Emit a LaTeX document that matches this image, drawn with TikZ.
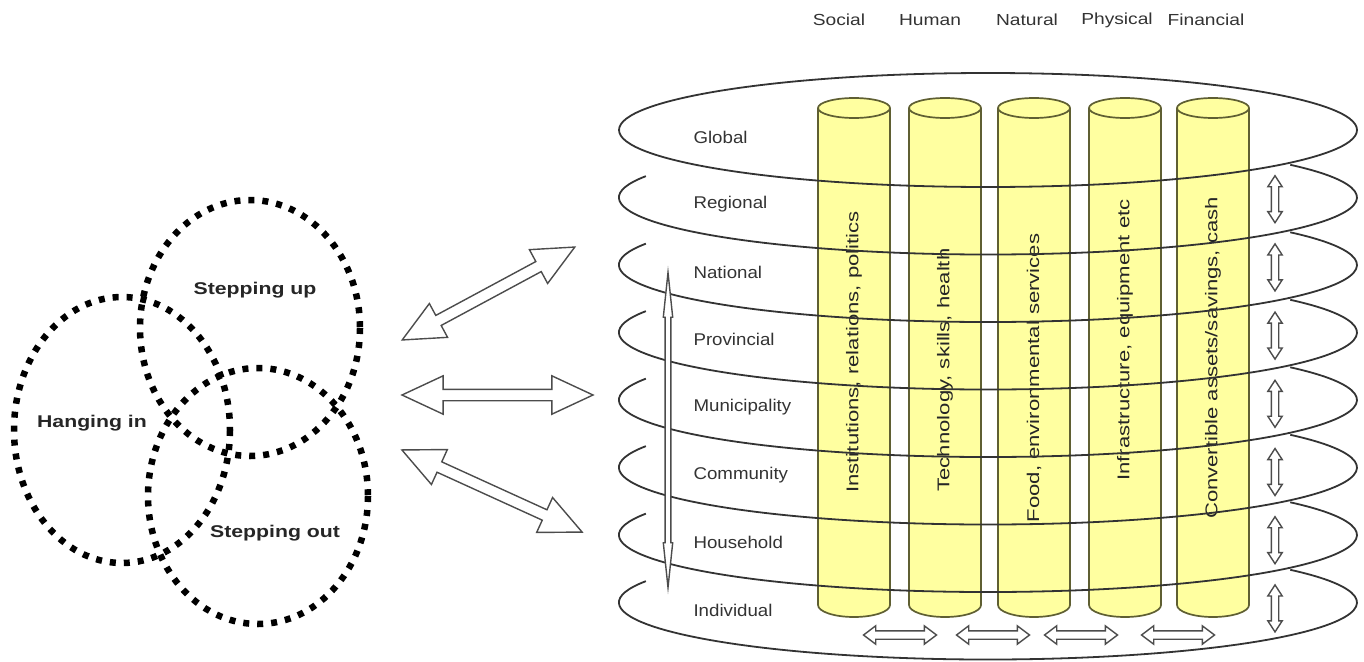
\documentclass[tikz,border=0pt]{standalone}
\usepackage{fontspec}
\setmainfont{Liberation Sans}
\usepackage{graphicx}
\usetikzlibrary{shapes.arrows}
\definecolor{pillarfill}{RGB}{255,255,160}
\definecolor{pillarline}{RGB}{95,95,50}

\begin{document}
\begin{tikzpicture}[x=1pt,y=-1pt,
    venn/.style={line width=6.5pt,dash pattern=on 6pt off 8pt},
    vennlabel/.style={font=\fontsize{17}{20}\selectfont\bfseries,text=black!85},
    layer/.style={draw=black!80,line width=1.8pt},
    levellabel/.style={anchor=west,font=\fontsize{17}{20}\selectfont,text=black!80},
    capital/.style={font=\fontsize{16}{19}\selectfont,text=black!80},
    pillar/.style={draw=pillarline,line width=1.7pt,fill=pillarfill},
    pillartext/.style={rotate=90,font=\fontsize{17}{20}\selectfont,text=black!85},
    twoway/.style={shape=double arrow,draw=black!70,fill=white,line width=1.4pt,
                   inner xsep=0pt,double arrow head indent=0pt},
    link/.style={twoway,inner ysep=5pt,double arrow head extend=13.5pt,double arrow tip angle=50},
    updown/.style={twoway,rotate=90,minimum height=47,inner ysep=3pt,
                   double arrow head extend=3.5pt,double arrow tip angle=66},
    across/.style={twoway,minimum height=73,inner ysep=3.5pt,
                   double arrow head extend=5pt,double arrow tip angle=74},
    levelaxis/.style={twoway,rotate=90,minimum height=315,inner ysep=2.2pt,
                  double arrow head extend=1.8pt,double arrow tip angle=12}]
   \useasboundingbox (0,0) rectangle (1364,661);

   % livelihood strategies
   \draw[venn] (122,430) ellipse[x radius=108,y radius=133];
   \draw[venn] (250,328) ellipse[x radius=110,y radius=128];
   \draw[venn] (258,496) ellipse[x radius=110,y radius=128];
   \node[vennlabel] (hang) at (92,423) {\scalebox{1.25}[1]{Hanging in}};
   \node[vennlabel] (up) at (255,290) {\scalebox{1.25}[1]{Stepping up}};
   \node[vennlabel] (out) at (275,533) {\scalebox{1.25}[1]{Stepping out}};

   \node[link,rotate=28.3,minimum height=196] (linkup) at (488.5,293.5) {};
   \node[link,minimum height=191] (linkmid) at (497.5,395) {};
   \node[link,rotate=-24.5,minimum height=198] (linkdown) at (492,491) {};

   % capitals
   \foreach \n/\cx/\cy/\txt in {1/854/352/{Institutions, relations, politics},
                                2/945/370/{Technology, skills, health},
                                3/1034/378/{Food, environmental services},
                                4/1125/340/{Infrastructure, equipment etc},
                                5/1213/358/{Convertible assets/savings, cash}}
   {
     \filldraw[pillar] (\cx-36,108) -- (\cx-36,605)
        arc[start angle=180,end angle=0,x radius=36,y radius=12] -- (\cx+36,108)
        arc[start angle=0,end angle=-180,x radius=36,y radius=10] -- cycle;
     \draw[pillar,fill=none] (\cx-36,108) arc[start angle=180,end angle=0,x radius=36,y radius=10];
     \node[pillartext] (pillar\n) at (\cx,\cy) {\scalebox{1.3}[1]{\txt}};
   }
   \foreach \lbl/\x [count=\i] in {Social/839,Human/930,Natural/1027,Physical/1117,Financial/1206}
     \node[capital] (capital\i) at (\x,20) {\scalebox{1.2}[1]{\lbl}};

   % scales
   \draw[layer] (988,130) ellipse[x radius=369,y radius=57];
   \foreach \i in {1,...,7}
   {
     \pgfmathsetmacro\cy{130+67.5*\i}
     \draw[layer] ({988+369*cos(202)},{\cy+57*sin(202)})
        arc[start angle=202,end angle=-35,x radius=369,y radius=57];
   }
   \foreach \lbl [count=\i from 0] in {Global,Regional,National,Provincial,Municipality,Community,Household,Individual}
     \node[levellabel] (level\i) at (690,{137+67.6*\i}) {\scalebox{1.1}[1]{\lbl}};

   \node[levelaxis] (scaleaxis) at (668,430) {};
   \foreach \i in {1,...,7}
     \node[updown] (updown\i) at (1275,{131+68.2*\i}) {};
   \foreach \x [count=\i] in {900,993,1081,1178}
     \node[across] (across\i) at (\x,635) {};
\end{tikzpicture}
\end{document}
